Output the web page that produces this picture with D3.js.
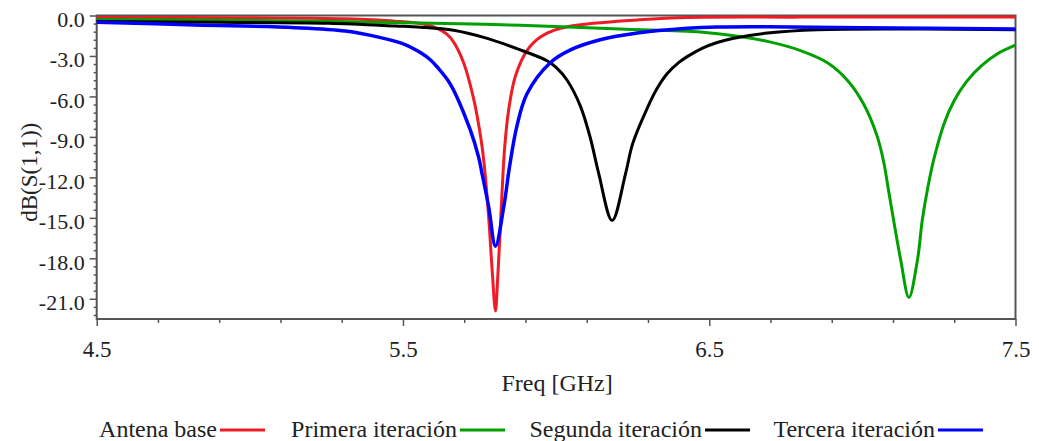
<!DOCTYPE html>
<html>
<head>
<meta charset="utf-8">
<script src="https://cdn.jsdelivr.net/npm/d3@7"></script>
<style>
  body { margin: 0; background: #fff; }
  svg, text { font-family: "Liberation Serif", "DejaVu Serif", "Noto Serif", "Times New Roman", Times, serif; }
  text { fill: #222; }
</style>
</head>
<body>
<div id="chart"></div>
<script>
const width = 1039, height = 441;
const serifFont = "'Liberation Serif', 'DejaVu Serif', 'Noto Serif', 'Times New Roman', Times, serif";

// data (freq in GHz, S11 in dB)
const freqBase = [4.5, 4.8, 5.0, 5.2, 5.31, 5.4, 5.475, 5.557, 5.6, 5.644, 5.665, 5.698, 5.731, 5.755, 5.765, 5.78, 5.791, 5.802, 5.809, 5.816, 5.824, 5.832, 5.845, 5.867, 5.905, 5.949, 6.014, 6.122, 6.265, 6.428, 6.8, 7.5];
const dbBase   = [-0.15, -0.15, -0.17, -0.2, -0.25, -0.32, -0.42, -0.6, -0.85, -1.4, -1.95, -3.5, -6.2, -9.2, -11.0, -15.0, -18.8, -21.9, -19.6, -16.6, -12.9, -9.8, -7.0, -4.5, -2.6, -1.6, -0.95, -0.58, -0.33, -0.15, -0.12, -0.12];

const freqIt1 = [4.5, 4.82, 5.148, 5.45, 5.557, 5.883, 6.21, 6.471, 6.58, 6.69, 6.798, 6.886, 6.951, 7.005, 7.049, 7.07, 7.085, 7.103, 7.125, 7.152, 7.18, 7.196, 7.215, 7.234, 7.267, 7.3, 7.34, 7.39, 7.44, 7.5];
const dbIt1   = [-0.3, -0.33, -0.4, -0.52, -0.56, -0.72, -1.0, -1.22, -1.5, -1.92, -2.6, -3.5, -4.8, -6.6, -9.0, -10.9, -12.9, -15.3, -18.1, -20.9, -18.1, -15.1, -12.6, -10.6, -8.0, -6.3, -4.9, -3.7, -2.85, -2.2];

const freqIt2 = [4.5, 4.9, 5.257, 5.475, 5.557, 5.665, 5.775, 5.883, 5.97, 6.0, 6.036, 6.079, 6.112, 6.139, 6.183, 6.227, 6.25, 6.297, 6.33, 6.363, 6.4, 6.428, 6.48, 6.526, 6.58, 6.69, 6.853, 7.2, 7.5];
const dbIt2   = [-0.45, -0.5, -0.58, -0.78, -0.87, -1.1, -1.7, -2.55, -3.35, -3.85, -4.8, -6.7, -9.1, -11.7, -15.2, -11.7, -9.5, -6.9, -5.4, -4.3, -3.5, -3.05, -2.4, -2.0, -1.68, -1.3, -1.05, -1.0, -1.05];

const freqIt3 = [4.5, 4.822, 5.148, 5.312, 5.42, 5.507, 5.557, 5.59, 5.611, 5.655, 5.72, 5.747, 5.758, 5.78, 5.802, 5.829, 5.848, 5.872, 5.905, 5.981, 6.047, 6.144, 6.265, 6.428, 6.526, 6.69, 7.0, 7.5];
const dbIt3   = [-0.5, -0.7, -0.9, -1.15, -1.6, -2.15, -2.75, -3.3, -3.8, -5.1, -8.5, -10.5, -11.7, -14.2, -17.1, -14.2, -11.2, -8.2, -5.8, -3.5, -2.55, -1.8, -1.3, -0.95, -0.85, -0.83, -0.9, -1.0];

const seriesNames = ["Antena base", "Primera iteración", "Segunda iteración", "Tercera iteración"];
const seriesColors = ["#ee1c25", "#00a000", "#000000", "#0000ff"];

const xTicks = [4.5, 5.5, 6.5, 7.5];
const yTicks = [0, -3, -6, -9, -12, -15, -18, -21];

const series = [
  { f: freqBase, v: dbBase },
  { f: freqIt1, v: dbIt1 },
  { f: freqIt2, v: dbIt2 },
  { f: freqIt3, v: dbIt3 }
].map((s, i) => ({
  name: seriesNames[i],
  color: seriesColors[i],
  points: s.f.map((f, j) => [f, s.v[j]])
}));

const plot = { left: 96.7, right: 1015.5, top: 15.5, bottom: 319 };

const svg = d3.select("#chart").append("svg")
  .attr("width", width)
  .attr("height", height)
  .style("font-family", serifFont);

const x = d3.scaleLinear().domain([4.5, 7.5]).range([plot.left, plot.right]);
const y = d3.scaleLinear().domain([0, -22.5]).range([plot.top, plot.bottom]);

const axisColor = "#555";
const fmt = v => d3.format(".1f")(v).replace("\u2212", "-");

// minor ticks every 0.2 GHz and 0.6 dB
const xMinor = d3.range(4.7, 7.5, 0.2).filter(v => Math.abs(((v - 4.5) % 1 + 1) % 1) > 0.05 && Math.abs(((v - 4.5) % 1) - 1) > 0.05);
const yMinor = d3.range(0, -22.5, -0.6).filter(v => Math.abs(v % 3) > 0.05 && Math.abs(Math.abs(v % 3) - 3) > 0.05);

function styleAxis(g) {
  g.attr("font-family", null);
  g.select(".domain").remove();
  g.selectAll(".tick line").attr("stroke", axisColor).attr("stroke-width", 1.5);
}

svg.append("g")
  .attr("transform", `translate(0,${plot.bottom})`)
  .call(d3.axisBottom(x).tickValues(xMinor).tickSize(4).tickFormat(""))
  .call(styleAxis);

const xAxis = svg.append("g")
  .attr("transform", `translate(0,${plot.bottom})`)
  .call(d3.axisBottom(x).tickValues(xTicks).tickSize(7).tickFormat(fmt))
  .call(styleAxis);
xAxis.selectAll(".tick text")
  .attr("y", 38).attr("dy", 0)
  .style("font-size", "23px")
  .style("font-family", serifFont)
  .attr("fill", "#222");

svg.append("g")
  .attr("transform", `translate(${plot.left},0)`)
  .call(d3.axisLeft(y).tickValues(yMinor).tickSize(3).tickFormat(""))
  .call(styleAxis);

const yAxis = svg.append("g")
  .attr("transform", `translate(${plot.left},0)`)
  .call(d3.axisLeft(y).tickValues(yTicks).tickSize(7).tickFormat(fmt))
  .call(styleAxis);
yAxis.selectAll(".tick text")
  .attr("x", -12).attr("dy", "0.5em")
  .style("font-size", "22px")
  .style("font-family", serifFont)
  .attr("fill", "#222");

// frame
svg.append("rect")
  .attr("x", plot.left).attr("y", plot.top)
  .attr("width", plot.right - plot.left)
  .attr("height", plot.bottom - plot.top)
  .attr("fill", "none")
  .attr("stroke", axisColor)
  .attr("stroke-width", 2);

// curves
const line = d3.line()
  .x(d => x(d[0]))
  .y(d => y(d[1]))
  .curve(d3.curveCatmullRom.alpha(0.5));

svg.append("g").selectAll("path")
  .data(series)
  .enter().append("path")
  .attr("d", d => line(d.points))
  .attr("fill", "none")
  .attr("stroke", d => d.color)
  .attr("stroke-width", (d, i) => i === 3 ? 3.5 : 3)
  .attr("stroke-linejoin", "round");

// axis titles
svg.append("text")
  .attr("x", (plot.left + plot.right) / 2 + 1)
  .attr("y", 391)
  .attr("text-anchor", "middle")
  .style("font-size", "24px")
  .text("Freq [GHz]");

svg.append("text")
  .attr("transform", `translate(37,${(plot.top + plot.bottom) / 2 + 5}) rotate(-90)`)
  .attr("text-anchor", "middle")
  .style("font-size", "23px")
  .text("dB(S(1,1))");

// legend: label followed by its line sample
const swatchStart = [220, 460, 705, 938];
const legend = svg.append("g").selectAll("g")
  .data(series)
  .enter().append("g")
  .attr("transform", (d, i) => `translate(${swatchStart[i]},430)`);

legend.append("line")
  .attr("x1", 0).attr("x2", 45)
  .attr("stroke", d => d.color)
  .attr("stroke-width", 3);

legend.append("text")
  .attr("x", -3).attr("y", 7)
  .attr("text-anchor", "end")
  .style("font-size", "24px")
  .text(d => d.name);
</script>
</body>
</html>
